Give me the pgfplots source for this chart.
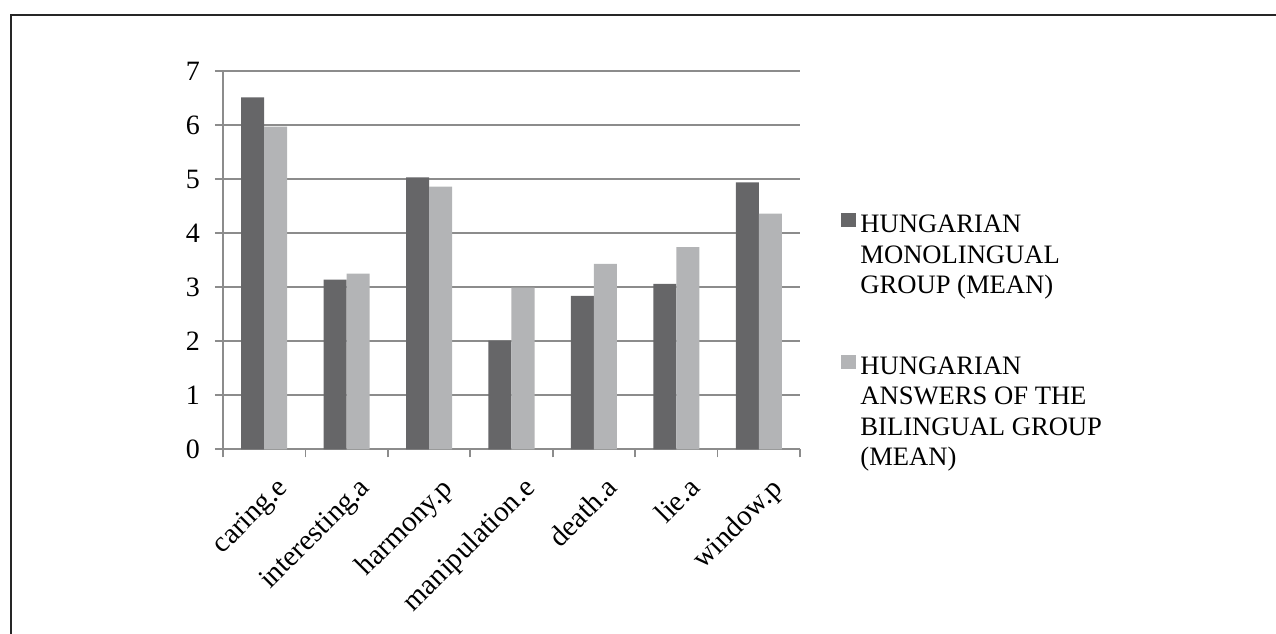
\documentclass[border=0pt]{standalone}
\usepackage{fontspec}
\setmainfont{Liberation Serif}
\usepackage{pgfplots}
\pgfplotsset{compat=1.18}
\definecolor{darkbar}{HTML}{666668}
\definecolor{lightbar}{HTML}{B3B4B6}
\definecolor{gridc}{HTML}{8C8C8C}
\begin{document}
\begin{tikzpicture}
\useasboundingbox (0,0) rectangle (638pt,316.5pt);
\draw[line width=0.8pt, color=black!85] (5.5pt,-1pt) -- (5.5pt,309pt) -- (640pt,309pt);
\begin{axis}[
  at={(111.5pt,91.85pt)}, anchor=south west,
  scale only axis, width=288.5pt, height=189.15pt,
  ybar=0pt, bar width=11.5pt,
  xmin=-0.5, xmax=6.5, ymin=0, ymax=7,
  ytick={0,1,...,7},
  xtick={0,...,6},
  xticklabels={caring.e,interesting.a,harmony.p,manipulation.e,death.a,lie.a,window.p},
  minor xtick={-0.5,0.5,...,6.5},
  axis x line*=bottom, axis y line*=left,
  axis line style={draw=gridc, line width=0.9pt},
  ymajorgrids, grid style={draw=gridc, line width=0.9pt},
  major x tick style={draw=none},
  minor x tick style={draw=gridc, line width=0.9pt},
  major y tick style={draw=gridc, line width=0.9pt},
  tick align=outside, major tick length=4pt, minor tick length=4pt,
  ticklabel style={font=\fontsize{14}{16}\selectfont},
  /pgf/number format/assume math mode=true,
  yticklabel style={xshift=-4pt},
  xticklabel style={rotate=45, anchor=north east, inner sep=1pt, yshift=-9pt, xshift=-1.5pt, font=\fontsize{14.5}{16}\selectfont},
  legend style={draw=none, fill=none, at={(1.0,0.5)}, anchor=west, xshift=17.5pt, yshift=-17pt,
    font=\fontsize{13.3}{15.25}\selectfont, row sep=54.5pt},
  legend cell align=left,
  legend image code/.code={\fill[#1] (0pt,-2pt) rectangle (7.5pt,5pt);},
]
\addplot[fill=darkbar, draw=none] coordinates {(0,6.51) (1,3.14) (2,5.03) (3,2.01) (4,2.84) (5,3.06) (6,4.94)};
\addlegendentry{\begin{tabular}[t]{@{}l@{}}HUNGARIAN\\MONOLINGUAL\\GROUP (MEAN)\end{tabular}}
\addplot[fill=lightbar, draw=none] coordinates {(0,5.97) (1,3.25) (2,4.86) (3,2.99) (4,3.43) (5,3.74) (6,4.36)};
\addlegendentry{\begin{tabular}[t]{@{}l@{}}HUNGARIAN\\ANSWERS OF THE\\BILINGUAL GROUP\\(MEAN)\end{tabular}}
\end{axis}
\end{tikzpicture}
\end{document}
